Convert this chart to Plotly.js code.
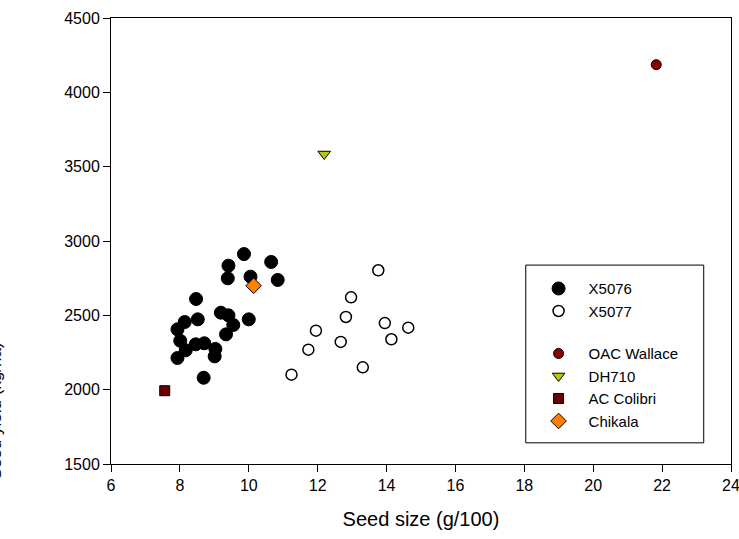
<!DOCTYPE html>
<html>
<head>
<meta charset="utf-8">
<script src="https://cdn.plot.ly/plotly-3.0.1.min.js"></script>
<style>html,body{margin:0;padding:0;background:#fff;}#chart{width:739px;height:539px;}</style>
</head>
<body>
<div id="chart"></div>
<script>
// X5076 (filled black circles)
const x5076_x = [9.86, 10.65, 9.41, 9.39, 10.05, 10.84, 8.47, 9.19, 9.41, 8.52, 8.14, 10.00, 9.55, 7.93, 9.34, 8.01, 8.46, 8.71, 9.03, 8.17, 9.01, 7.93, 8.69];
const x5076_y = [2912, 2859, 2834, 2749, 2760, 2738, 2610, 2518, 2500, 2473, 2455, 2473, 2435, 2406, 2372, 2329, 2305, 2312, 2274, 2265, 2224, 2213, 2080];
// X5077 (open circles)
const x5077_x = [13.76, 12.97, 12.82, 11.95, 13.95, 14.63, 14.14, 12.67, 11.73, 13.31, 11.24];
const x5077_y = [2803, 2621, 2489, 2397, 2448, 2417, 2339, 2321, 2269, 2150, 2101];
// Checks
const checkNames = ["OAC Wallace", "DH710", "AC Colibri", "Chikala"];
const checkX = [21.83, 12.19, 7.56, 10.14];
const checkY = [4186, 3585, 1993, 2699];

const xTicks = [6, 8, 10, 12, 14, 16, 18, 20, 22, 24];
const yTicks = [1500, 2000, 2500, 3000, 3500, 4000, 4500];

const checkStyles = [
  {symbol: "circle", color: "#8b0000", size: 10},
  {symbol: "triangle-down", color: "#b9c800", size: 11},
  {symbol: "square", color: "#6a0000", size: 10},
  {symbol: "diamond", color: "#ff8000", size: 12}
];

const traces = [
  {x: x5076_x, y: x5076_y, type: "scatter", mode: "markers", name: "X5076", legendgroup: "g1",
   marker: {symbol: "circle", size: 13, color: "#000000", line: {color: "#000000", width: 1}}},
  {x: x5077_x, y: x5077_y, type: "scatter", mode: "markers", name: "X5077", legendgroup: "g1",
   marker: {symbol: "circle", size: 11, color: "#ffffff", line: {color: "#000000", width: 1.5}}}
];
checkNames.forEach((n, i) => {
  traces.push({x: [checkX[i]], y: [checkY[i]], type: "scatter", mode: "markers", name: n, legendgroup: "g2",
    marker: {symbol: checkStyles[i].symbol, size: checkStyles[i].size, color: checkStyles[i].color, line: {color: "#000000", width: 1}}});
});

const layout = {
  width: 739, height: 539,
  margin: {l: 111, r: 8, t: 18, b: 75},
  paper_bgcolor: "#ffffff", plot_bgcolor: "#ffffff",
  font: {family: "Liberation Sans, Arial, sans-serif", size: 16, color: "#000000"},
  showlegend: true,
  xaxis: {
    range: [6, 24], tickvals: xTicks, ticktext: xTicks.map(String),
    showgrid: false, zeroline: false, showline: true, linecolor: "#000000", linewidth: 1, mirror: true,
    ticks: "outside", ticklen: 7, tickcolor: "#000000", tickfont: {size: 16},
    ticklabeloverflow: "allow",
    title: {text: "Seed size (g/100)", font: {size: 20}, standoff: 18}
  },
  yaxis: {
    range: [1500, 4500], tickvals: yTicks, ticktext: yTicks.map(String),
    showgrid: false, zeroline: false, showline: true, linecolor: "#000000", linewidth: 1, mirror: true,
    ticks: "outside", ticklen: 7, tickcolor: "#000000", tickfont: {size: 16},
    ticklabeloverflow: "allow"
  },
  legend: {
    x: 0.6735, y: 0.43, xanchor: "left", yanchor: "top",
    bgcolor: "rgba(0,0,0,0)", borderwidth: 0,
    tracegroupgap: 20, traceorder: "grouped", itemwidth: 50,
    font: {size: 15}
  },
  shapes: [
    {type: "rect", xref: "paper", yref: "paper", x0: 0.669, x1: 0.956, y0: 0.0475, y1: 0.446,
     line: {color: "#000000", width: 1}, fillcolor: "rgba(0,0,0,0)", layer: "below"}
  ],
  annotations: [
    {text: "Seed yield (kg/ha)", textangle: -90, xref: "paper", yref: "paper", x: -0.1677, y: 0.119,
     xanchor: "right", yanchor: "middle", showarrow: false, font: {size: 17}}
  ]
};

Plotly.newPlot("chart", traces, layout, {displayModeBar: false, staticPlot: true});
</script>
</body>
</html>
